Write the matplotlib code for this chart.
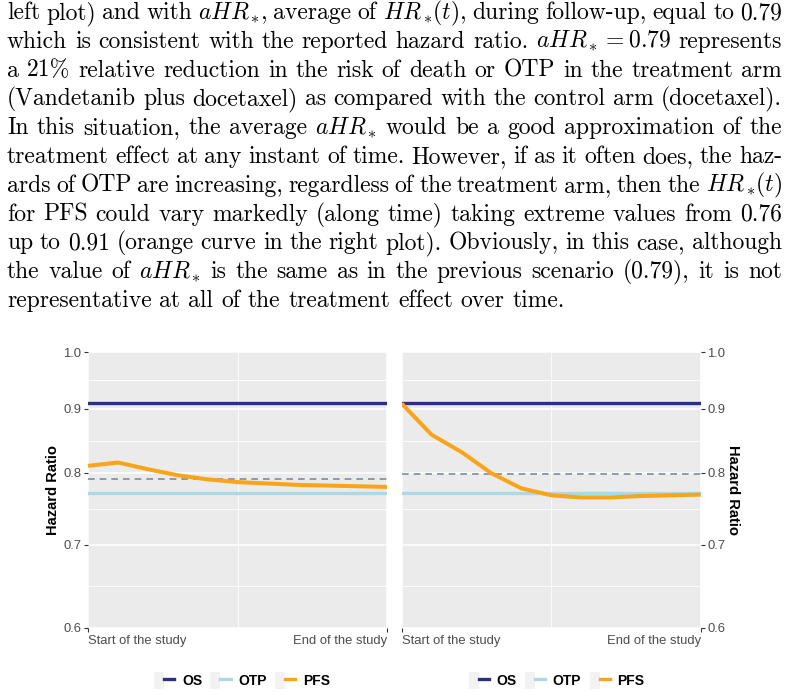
import matplotlib
matplotlib.use("Agg")
import matplotlib.pyplot as plt
from matplotlib.patches import Rectangle
from matplotlib.lines import Line2D
from matplotlib.legend_handler import HandlerTuple
from matplotlib.ticker import FixedLocator, FixedFormatter, NullFormatter

plt.rcParams["font.family"] = ["Liberation Sans", "DejaVu Sans"]
plt.rcParams["mathtext.fontset"] = "cm"
plt.rcParams["axes.unicode_minus"] = False

# text above the figure, one entry per typeset line
paragraph = [
    r"left plot) and with $aHR_\ast\!$, average of $HR_\ast\!(t)$, during follow-up, equal to 0.79",
    r"which is consistent with the reported hazard ratio. $aHR_\ast=0.79$ represents",
    r"a 21% relative reduction in the risk of death or OTP in the treatment arm",
    r"(Vandetanib plus docetaxel) as compared with the control arm (docetaxel).",
    r"In this situation, the average $aHR_\ast$ would be a good approximation of the",
    r"treatment effect at any instant of time. However, if as it often does, the haz-",
    r"ards of OTP are increasing, regardless of the treatment arm, then the $HR_\ast\!(t)$",
    r"for PFS could vary markedly (along time) taking extreme values from 0.76",
    r"up to 0.91 (orange curve in the right plot). Obviously, in this case, although",
    r"the value of $aHR_\ast$ is the same as in the previous scenario (0.79), it is not",
    r"representative at all of the treatment effect over time.",
]

# data
time = [0.0, 0.1, 0.2, 0.3, 0.4, 0.5, 0.6, 0.7, 0.8, 0.9, 1.0]
os_hr = 0.91
otp_hr = 0.77
pfs_left = [0.810, 0.815, 0.805, 0.796, 0.790, 0.786, 0.784, 0.782, 0.781, 0.780, 0.779]
pfs_right = [0.909, 0.858, 0.831, 0.799, 0.777, 0.767, 0.764, 0.764, 0.766, 0.767, 0.768]
ahr_left = 0.79
ahr_right = 0.798

y_breaks = [0.6, 0.7, 0.8, 0.9, 1.0]
y_labels = ["0.6", "0.7", "0.8", "0.9", "1.0"]
x_breaks = [0, 1]
x_labels = ["Start of the study", "End of the study"]
series = ["OS", "OTP", "PFS"]
colors = {"OS": "#2D2F7F", "OTP": "#ADD8E6", "PFS": "#FAA41A"}
dash_color = "#7F8C9E"

W, H = 788, 692
fig = plt.figure(figsize=(W / 100, H / 100), dpi=100)


def px_axes(left, top, right, bottom):
    return fig.add_axes([left / W, 1 - bottom / H, (right - left) / W, (bottom - top) / H])


def draw_paragraph(lines, left=7, right=782, first_base=19, skip=28.8, size=17):
    r = fig.canvas.get_renderer()
    for i, line in enumerate(lines):
        y = 1 - (first_base + i * skip) / H
        words = line.split(" ")
        txts = [fig.text(0, y, w, fontsize=size, family="cmr10", va="baseline")
                for w in words]
        widths = [t.get_window_extent(r).width for t in txts]
        if i == len(lines) - 1:
            gap = size * 100 / 72 * 0.333
        else:
            gap = (right - left - sum(widths)) / (len(words) - 1)
        x = left
        for t, w in zip(txts, widths):
            t.set_x(x / W)
            x += w + gap


def setup_panel(ax, side):
    ax.set_facecolor("#EBEBEB")
    ax.set_yscale("log")
    ax.set_ylim(y_breaks[0], y_breaks[-1])
    ax.set_xlim(x_breaks[0], x_breaks[-1])
    ax.yaxis.set_major_locator(FixedLocator(y_breaks))
    ax.yaxis.set_major_formatter(FixedFormatter(y_labels))
    minor_y = [(a * b) ** 0.5 for a, b in zip(y_breaks[:-1], y_breaks[1:])]
    ax.yaxis.set_minor_locator(FixedLocator(minor_y))
    ax.yaxis.set_minor_formatter(NullFormatter())
    ax.set_xticks(x_breaks, labels=x_labels)
    ax.set_xticks([0.5], minor=True)
    ax.grid(which="major", color="white", lw=1.1)
    ax.grid(which="minor", color="white", lw=0.6)
    ax.tick_params(which="minor", length=0)
    ax.tick_params(which="major", length=2.9, width=0.8, color="#333333",
                   labelcolor="#4D4D4D", labelsize=9.4, pad=1.8)
    ax.set_axisbelow(True)
    for s in ax.spines.values():
        s.set_visible(False)
    xl = ax.get_xticklabels()
    xl[0].set_ha("left")
    xl[1].set_ha("right")
    if side == "right":
        ax.yaxis.tick_right()
        ax.text(1.107, 0.5, "Hazard Ratio", transform=ax.transAxes, rotation=-90,
                ha="center", va="center", fontsize=10.6, fontweight="bold")
    else:
        ax.text(-0.116, 0.5, "Hazard Ratio", transform=ax.transAxes, rotation=90,
                ha="center", va="center", fontsize=10.6, fontweight="bold")


def draw_lines(ax, pfs, ahr):
    ax.axhline(os_hr, color=colors["OS"], lw=2.4, zorder=3)
    ax.axhline(otp_hr, color=colors["OTP"], lw=2.4, zorder=3)
    ax.axhline(ahr, color=dash_color, lw=1.2, ls=(0, (4, 3)), zorder=3)
    ax.plot(time, pfs, color=colors["PFS"], lw=2.9, zorder=4,
            solid_joinstyle="round", solid_capstyle="butt")


def add_legend(ax, cx):
    handles = []
    for s in series:
        box = Rectangle((0, 0), 1, 1, facecolor="#F2F2F2", edgecolor="none")
        ln = Line2D([], [], color=colors[s], lw=2.4)
        handles.append((box, ln))
    ax.legend(handles, series, handler_map={tuple: HandlerTuple(ndivide=None, pad=0)},
              loc="center", bbox_to_anchor=(cx, -0.19), ncol=3, frameon=False,
              prop={"weight": "bold", "size": 10}, handlelength=1.45,
              handleheight=1.45, handletextpad=0.55, columnspacing=0.6,
              borderaxespad=0, borderpad=0)


draw_paragraph(paragraph)

ax_l = px_axes(88, 352, 387, 628)
setup_panel(ax_l, "left")
draw_lines(ax_l, pfs_left, ahr_left)
add_legend(ax_l, 0.515)

ax_r = px_axes(401.7, 352, 700.7, 628)
setup_panel(ax_r, "right")
draw_lines(ax_r, pfs_right, ahr_right)
add_legend(ax_r, 0.518)

fig.savefig("out.png", dpi=100)
